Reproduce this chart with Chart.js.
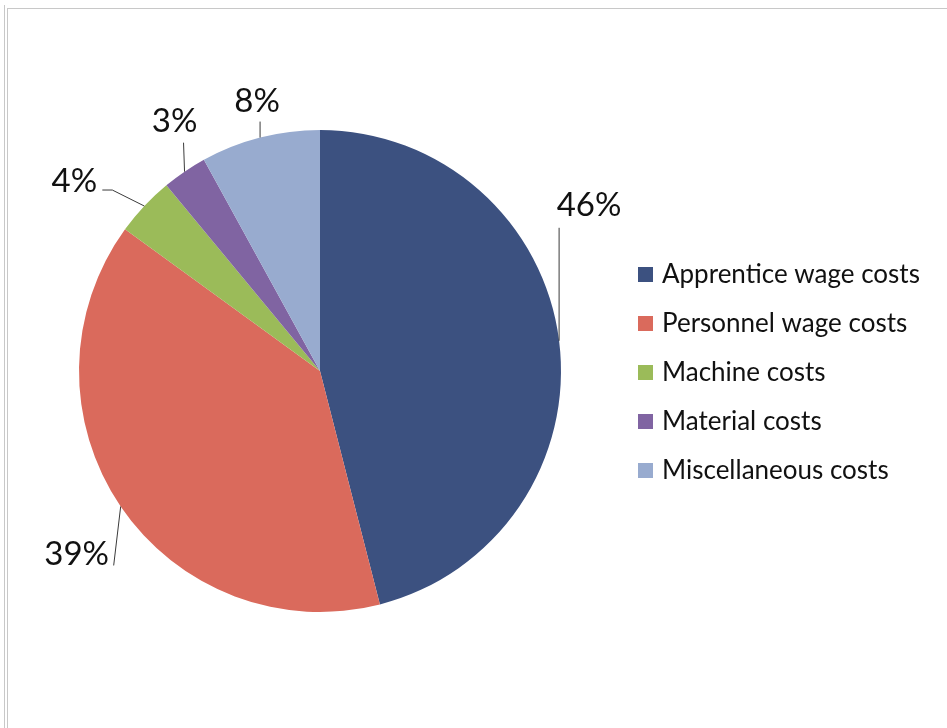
<!DOCTYPE html>
<html>
<head>
<meta charset="utf-8">
<script src="https://cdn.jsdelivr.net/npm/chart.js@4.4.1/dist/chart.umd.min.js"></script>
<style>
    body { margin: 0; background: #fff; }
    .wrap { position: relative; width: 947px; height: 728px; overflow: hidden; }
    .edge-outer { position: absolute; left: 4px; top: 5px; width: 0; height: 723px; border-left: 1px solid #c8c8c8; }
    .edge-inner { position: absolute; left: 7px; top: 8px; width: 940px; height: 720px; border-left: 1px solid #c8c8c8; border-top: 1px solid #c8c8c8; }
    canvas { position: absolute; left: 0; top: 0; }
</style>
</head>
<body>
<div class="wrap">
    <div class="edge-outer"></div>
    <div class="edge-inner"></div>
    <canvas id="costChart" width="947" height="728"></canvas>
</div>
<script>
// 成本构成
const categories = ['Apprentice wage costs', 'Personnel wage costs', 'Machine costs', 'Material costs', 'Miscellaneous costs'];
const shares = [46, 39, 4, 3, 8];
const sliceColors = ['#3c5180', '#da6a5c', '#9bbb59', '#8064a2', '#98abcf'];

// 标签引线位置（相对于扇区外缘中点）
const labelLayout = [
    { leader: [[0, -113]], text: [30, -135] },
    { leader: [[-7, 59]], text: [-44, 48] },
    { leader: [[-32, -16], [-42, -16]], text: [-70, -25] },
    { leader: [[-1, -29]], text: [-10, -50] },
    { leader: [[0, -16]], text: [-3, -36] }
];

const sliceLabels = {
    id: 'sliceLabels',
    afterDatasetsDraw(chart) {
        const ctx = chart.ctx;
        const arcs = chart.getDatasetMeta(0).data;
        ctx.save();
        arcs.forEach(function(arc, i) {
            const p = arc.getProps(['x', 'y', 'startAngle', 'endAngle', 'outerRadius'], true);
            const mid = (p.startAngle + p.endAngle) / 2;
            const ax = p.x + Math.cos(mid) * p.outerRadius;
            const ay = p.y + Math.sin(mid) * p.outerRadius;
            const lay = labelLayout[i];

            ctx.strokeStyle = '#3a3a3a';
            ctx.lineWidth = 1;
            ctx.beginPath();
            ctx.moveTo(ax, ay);
            lay.leader.forEach(function(pt) {
                ctx.lineTo(ax + pt[0], ay + pt[1]);
            });
            ctx.stroke();

            ctx.fillStyle = '#111';
            ctx.font = '33px Lato';
            ctx.textAlign = 'center';
            ctx.textBaseline = 'middle';
            ctx.fillText(shares[i] + '%', ax + lay.text[0], ay + lay.text[1]);
        });
        ctx.restore();
    },
    afterDraw(chart) {
        // 右侧图例
        const ctx = chart.ctx;
        ctx.save();
        ctx.font = '26px Lato';
        ctx.textAlign = 'left';
        ctx.textBaseline = 'middle';
        categories.forEach(function(name, i) {
            const y = 274 + i * 49;
            ctx.fillStyle = sliceColors[i];
            ctx.fillRect(638, y - 7, 15, 15);
            ctx.fillStyle = '#111';
            ctx.fillText(name, 662, y + 1);
        });
        ctx.restore();
    }
};

document.addEventListener('DOMContentLoaded', function() {
    const costCtx = document.getElementById('costChart').getContext('2d');
    new Chart(costCtx, {
        type: 'pie',
        data: {
            labels: categories,
            datasets: [{
                data: shares,
                backgroundColor: sliceColors,
                borderWidth: 0
            }]
        },
        options: {
            responsive: false,
            animation: false,
            devicePixelRatio: 1,
            layout: {
                padding: { left: 79, top: 130, right: 386, bottom: 116 }
            },
            plugins: {
                legend: { display: false },
                tooltip: { enabled: false }
            }
        },
        plugins: [sliceLabels]
    });
});
</script>
</body>
</html>
